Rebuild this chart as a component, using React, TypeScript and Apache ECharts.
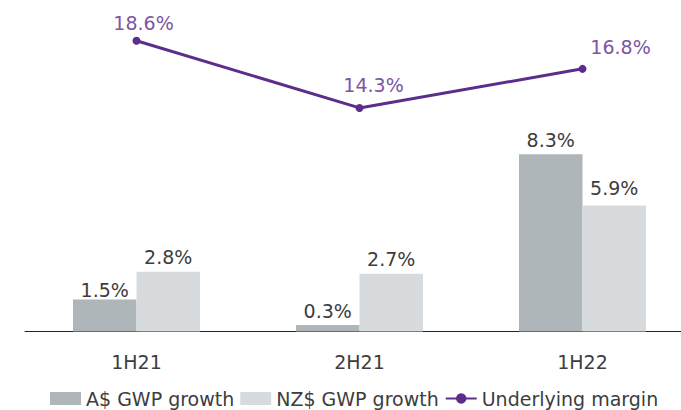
import React, { useEffect, useRef } from "react";
import * as echarts from "echarts";

const categories = ["1H21", "2H21", "1H22"];
const auGrowth = [1.5, 0.3, 8.3];
const nzGrowth = [2.8, 2.7, 5.9];
const margin = [18.6, 14.3, 16.8];

const auOffsets = [[0, 5], [0, 0], [0, 0]];
const nzOffsets = [[0, 0], [0, 0], [0, -3]];
const lineOffsets = [[7, 1], [14, -4], [38, -3]];

const FONT = "'DejaVu Sans', sans-serif";
const TEXT = "#3d3d3d";

export default function App() {
  const ref = useRef<HTMLDivElement>(null);
  useEffect(() => {
    const chart = echarts.init(ref.current!, null, { renderer: "svg" });
    const labelBase = {
      show: true,
      position: "top" as const,
      distance: 5,
      fontSize: 19,
      fontFamily: FONT,
      color: TEXT,
      formatter: (p: any) => p.value.toFixed(1) + "%",
    };
    chart.setOption({
      animation: false,
      grid: { left: 25, top: 11, width: 669, height: 320.5, outerBoundsMode: "none", containLabel: false },
      legend: {
        left: 50,
        top: 389,
        padding: 0,
        itemWidth: 31,
        itemHeight: 13,
        itemGap: 6,
        textStyle: { fontSize: 19, fontFamily: FONT, color: TEXT },
        data: [
          { name: "A$ GWP growth", icon: "rect" },
          { name: "NZ$ GWP growth", icon: "rect" },
          { name: "Underlying margin" },
        ],
      },
      xAxis: {
        type: "category",
        data: categories,
        axisLine: { lineStyle: { color: "#222", width: 1 } },
        axisTick: { show: false },
        axisLabel: { fontSize: 19, fontFamily: FONT, color: TEXT, margin: 21 },
      },
      yAxis: [
        { type: "value", min: 0, max: 15, show: false, splitLine: { show: false } },
        { type: "value", min: 0, max: 20.5, show: false, splitLine: { show: false } },
      ],
      series: [
        {
          name: "A$ GWP growth",
          type: "bar",
          barWidth: 63.5,
          barGap: "0%",
          itemStyle: { color: "#afb6b9" },
          data: auGrowth.map((v, i) => ({ value: v, label: { offset: auOffsets[i] } })),
          label: labelBase,
        },
        {
          name: "NZ$ GWP growth",
          type: "bar",
          barWidth: 63.5,
          barGap: "0%",
          itemStyle: { color: "#d7dbde" },
          data: nzGrowth.map((v, i) => ({ value: v, label: { offset: nzOffsets[i] } })),
          label: labelBase,
        },
        {
          name: "Underlying margin",
          type: "line",
          yAxisIndex: 1,
          symbol: "circle",
          symbolSize: 8,
          lineStyle: { color: "#5c2d8a", width: 3 },
          itemStyle: { color: "#5c2d8a" },
          data: margin.map((v, i) => ({ value: v, label: { offset: lineOffsets[i] } })),
          label: { ...labelBase, color: "#7d55a3" },
        },
      ],
    });
    return () => chart.dispose();
  }, []);
  return (
    <div
      ref={ref}
      style={{ position: "fixed", left: 0, top: 0, width: 681, height: 410, background: "#fff" }}
    />
  );
}
